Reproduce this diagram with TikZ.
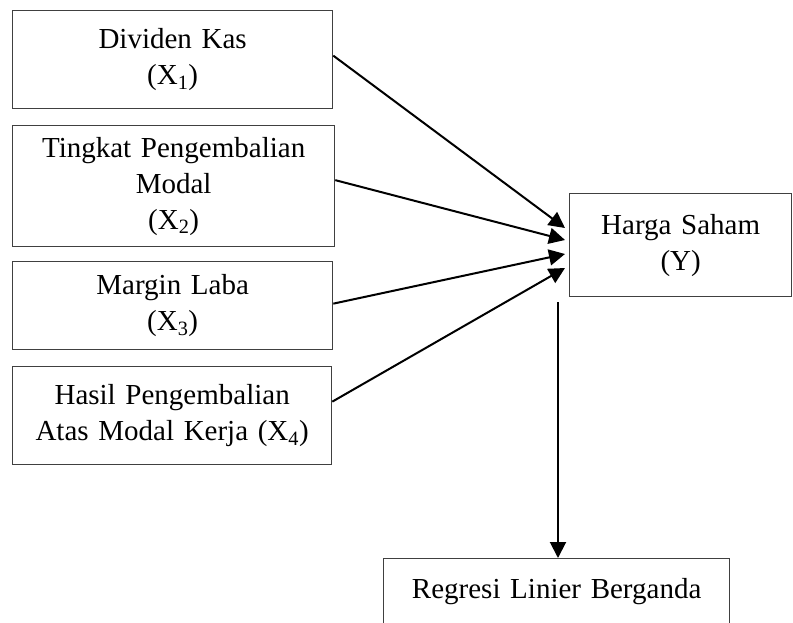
\documentclass[tikz,border=0pt]{standalone}
\usepackage{fontspec}
\setmainfont{Liberation Serif}
\usetikzlibrary{arrows.meta}

\begin{document}
\begin{tikzpicture}[x=1pt,y=1pt,>={Triangle[length=16pt,width=16pt]}]
  \tikzstyle{varbox}=[draw=black!75,line width=1.3pt,inner sep=0pt,
    anchor=north west,align=center,
    font=\fontsize{29}{36}\selectfont]
  \tikzstyle{link}=[->,line width=2pt]
  \useasboundingbox (0,0) rectangle (793,-623);
  \node[varbox,minimum width=320pt,minimum height=98pt,text width=320pt] (x1) at (12,-10)
    {Dividen Kas\\(X\textsubscript{1})};
  \node[varbox,minimum width=322pt,minimum height=121pt,text width=322pt] (x2) at (12,-125)
    {Tingkat Pengembalian\\Modal\\(X\textsubscript{2})};
  \node[varbox,minimum width=320pt,minimum height=88pt,text width=320pt] (x3) at (12,-261)
    {Margin Laba\\(X\textsubscript{3})};
  \node[varbox,minimum width=319pt,minimum height=98pt,text width=319pt] (x4) at (12,-366)
    {Hasil Pengembalian\\Atas Modal Kerja (X\textsubscript{4})};
  \node[varbox,minimum width=222pt,minimum height=103pt,text width=222pt] (y) at (569,-193)
    {Harga Saham\\(Y)};
  \node[varbox,minimum width=346pt,minimum height=66pt,text width=346pt] (reg) at (383,-558)
    {Regresi Linier Berganda};
  % arrow ends beside Y
  \coordinate (t1) at (565,-228);
  \coordinate (t2) at (565,-240);
  \coordinate (t3) at (565,-254);
  \coordinate (t4) at (565,-268);
  \coordinate (ys) at (558,-302);
  \draw[link] ([yshift=4pt]x1.east)--(t1);
  \draw[link] ([yshift=6pt]x2.east)--(t2);
  \draw[link] ([yshift=2pt]x3.east)--(t3);
  \draw[link] ([yshift=14pt]x4.east)--(t4);
  \draw[link] (ys)--(ys |- reg.north);
\end{tikzpicture}
\end{document}
